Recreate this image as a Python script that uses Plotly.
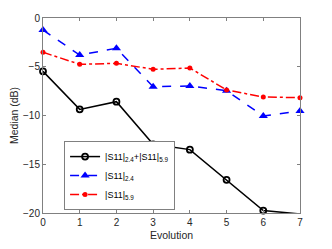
import plotly.graph_objects as go

evolution = [0, 1, 2, 3, 4, 5, 6, 7]
s11_sum = [-5.47, -9.37, -8.58, -12.96, -13.5, -16.6, -19.75, -20.1]
s11_24 = [-1.23, -3.8, -3.1, -7.05, -6.97, -7.46, -10.05, -9.54]
s11_59 = [-3.52, -4.75, -4.65, -5.26, -5.13, -7.38, -8.1, -8.17]

fig = go.Figure()
fig.add_trace(go.Scatter(
    x=evolution, y=s11_sum, mode="lines+markers",
    name="|S11|<sub>2.4</sub>+|S11|<sub>5.9</sub>",
    line=dict(color="black", width=1.5),
    marker=dict(symbol="circle-open", size=6, color="black", line=dict(width=1.8)),
    cliponaxis=False))
fig.add_trace(go.Scatter(
    x=evolution, y=s11_24, mode="lines+markers",
    name="|S11|<sub>2.4</sub>",
    line=dict(color="blue", width=1.5, dash="dash"),
    marker=dict(symbol="triangle-up", size=8, color="blue"),
    cliponaxis=False))
fig.add_trace(go.Scatter(
    x=evolution, y=s11_59, mode="lines+markers",
    name="|S11|<sub>5.9</sub>",
    line=dict(color="red", width=1.5, dash="dashdot"),
    marker=dict(symbol="circle", size=5, color="red"),
    cliponaxis=False))

font_family = "Liberation Sans, Arial, Helvetica, sans-serif"
axis_common = dict(showgrid=False, zeroline=False, showline=True, mirror="ticks",
                   linecolor="#808080", linewidth=1, ticks="inside", ticklen=3,
                   tickcolor="#808080", automargin=False,
                   tickfont=dict(family=font_family, size=10, color="#262626"))

fig.update_layout(
    width=332, height=249,
    margin=dict(l=35, r=40, t=10, b=44),
    paper_bgcolor="white", plot_bgcolor="white",
    showlegend=True,
    legend=dict(x=0.082, y=0.015, xanchor="left", yanchor="bottom",
                bgcolor="white", bordercolor="#808080", borderwidth=1,
                font=dict(family=font_family, size=9, color="black"),
                tracegroupgap=0, itemwidth=30),
    xaxis=dict(range=[0, 7], tickvals=evolution,
               title=dict(text="Evolution", standoff=4,
                          font=dict(family=font_family, size=10.5, color="#262626")),
               **axis_common),
    yaxis=dict(range=[-20, 0], tickvals=[0, -5, -10, -15, -20],
               title=dict(text="Median (dB)", standoff=2,
                          font=dict(family=font_family, size=10.5, color="#262626")),
               **axis_common),
)

fig.write_html("out.html")
